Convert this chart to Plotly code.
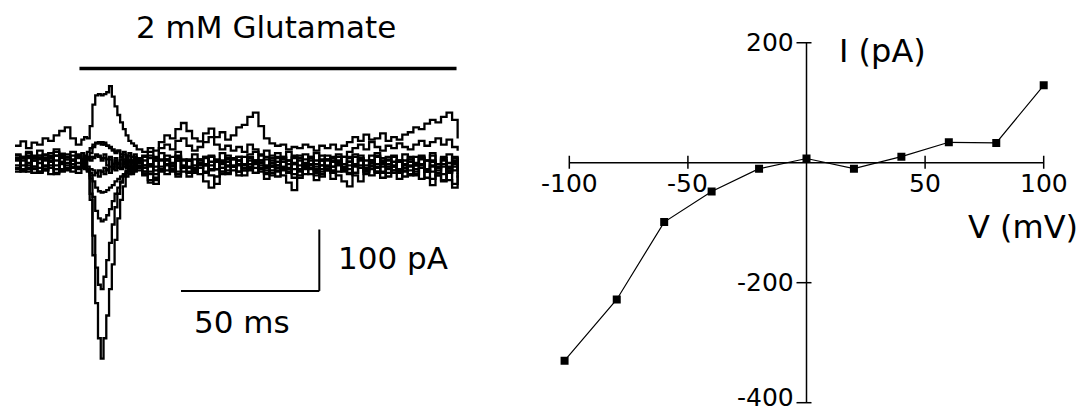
import plotly.graph_objects as go

# ---------------- Left panel: current traces (time in ms, current in pA) ----------------
T_MS = [0, 2, 4, 6, 8, 10, 12, 14, 16, 18, 20, 22,
        24, 25, 26, 27, 28, 29, 30, 31, 32, 33, 34, 35, 36, 37, 38, 39, 40, 41, 42, 43, 44,
        46, 48, 50, 52, 54, 56, 58, 60, 62, 64,
        66, 68, 70, 72, 74, 76, 78, 80, 82, 84,
        86, 88, 90, 92, 94, 96, 98, 100, 102, 104,
        106, 108, 110, 112, 114, 116, 118, 120, 122, 124,
        126, 128, 130, 132, 134, 136, 138, 140, 142, 144,
        146, 148, 150, 152, 154, 156, 158, 160]

trace_m100 = [6, -14, 8, -10, 12, -12, 4, -16, 10, -8, 12, -10,
              -6, 8, -10, -60, -150, -228, -285, -318, -285, -248, -205, -165, -125, -90, -60, -38, -22, -14, -18, 2, -12,
              -14, -2, 8, -12, 4, -10, 10, -6, 6, -16,
              0, 10, -10, 4, -14, 8, -6, 10, -12, 4,
              -16, 0, 10, -6, 8, -12, 4, -10, 12, -4,
              8, -14, 4, -10, 10, -2, -14, 8, -6, 12,
              -10, 4, -14, 8, -6, 12, -10, 4, -18, 0,
              8, -10, 12, -6, 4, -14, 8, -6]
trace_m80 = [-14, 4, -8, -16, 6, -10, 8, -18, 0, -12, 6, -6,
             6, -8, -14, -50, -118, -170, -198, -205, -185, -158, -130, -100, -72, -50, -32, -20, -12, 2, -16, 4, -8,
             -20, -32, -24, -10, -18, -4, -14, 4, -8, -16,
             -4, -14, 2, -10, -2, -16, -6, -20, -4, -12,
             2, -10, -4, -16, -22, -6, -14, 0, -10, -18,
             -4, -12, -22, -6, -16, 0, -12, -4, -16, -8,
             -18, -10, -2, -14, -22, -6, -16, -4, -12, -20,
             -4, -14, -6, -20, -28, -12, -2, -18]
trace_m60 = [8, -10, 12, -6, -14, 8, -4, 12, -12, 6, -8, 14,
             -8, 8, -10, -25, -55, -78, -90, -95, -92, -85, -75, -62, -50, -40, -30, -22, -16, -18, -6, -12, 4,
             -14, -4, -18, -6, 6, -12, 8, -4, -14, 6,
             -8, 10, -12, 2, -18, -6, 6, -14, -2, 8,
             -8, 4, -12, -20, -4, 6, -8, 8, -14, -2,
             10, -6, 4, -12, 2, 10, -6, -16, -2, 8,
             -8, 4, -14, -2, 10, -6, 4, -12, 2, 10,
             -8, 4, -14, -2, 8, -8, 4, -12]
trace_m40 = [-10, 10, -4, 12, -14, 4, 8, -10, 12, -4, 4, -16,
             4, -8, -12, -20, -30, -40, -46, -48, -47, -44, -40, -36, -30, -26, -22, -18, -14, -10, -14, -4, -8,
             -18, -28, -34, -14, -4, -14, -22, -6, 4, -10,
             -2, -16, -4, 6, -8, -18, -4, 4, -12, -2,
             -16, -4, -26, -12, 2, -8, -16, -2, -20, -6,
             4, -10, -18, -4, -14, 2, -8, -18, -4, 4,
             -10, -20, -6, 2, -16, -4, -14, -2, -20, -10,
             -26, -14, -4, -12, -2, -16, -6, -24]
trace_m20 = [6, -10, 0, -16, 8, -4, -18, 4, -10, 6, -14, 0,
             -8, 4, -12, -16, -20, -16, -22, -14, -18, -10, -16, -6, -12, -2, -10, 2, -8, 4, -6, -14, 0,
             -8, -18, -28, -12, -2, -10, 4, -8, -16, -4,
             -18, -30, -40, -22, -8, 2, -12, -4, -20, -6,
             4, -10, -18, -4, -12, 2, -10, -24, -12, -2,
             -10, -20, -4, -12, -26, -14, -2, -10, -20, -30,
             -12, -4, -16, -24, -10, 2, -12, -22, -6, -14,
             -2, -12, -26, -16, -6, -28, -40, -20]
trace_0 = [-4, 10, -10, 8, 0, -12, 12, -4, 8, -10, 4, 12,
           0, -10, 6, 10, 8, 12, 10, 4, 8, -4, 6, -6, 4, -8, 6, -2, 10, -6, 4, -12, 6,
           -4, 8, -12, 4, 12, -6, 4, -14, -22, -8,
           6, -4, 10, -10, 4, -12, 8, -2, 10, -8,
           0, 12, -6, 4, -14, 8, -2, 10, -12, 0,
           -18, -28, -10, 6, -6, 4, -12, 10, -2, 6,
           -14, 0, 10, -6, 4, -16, -26, -8, 6, -4,
           10, -12, 4, -8, -18, 0, -12, 6]
trace_p20 = [4, -12, 10, -6, -16, 6, -8, 12, -14, 0, -6, 10,
             -8, 4, -6, -10, -12, -16, -12, -14, -8, -12, -6, -10, 0, -8, 6, -6, 4, -12, 0, 8, -6,
             4, -14, -6, 6, -12, 0, -18, -8, 4, -12,
             -2, 8, -20, -34, -14, -4, 6, -14, -2, -10,
             4, -8, -16, 0, -8, -20, -32, -44, -24, -10,
             -2, -16, -4, 4, -12, -20, -30, -38, -16, -4,
             -14, 4, -8, -16, -2, -12, 2, -14, -4, -18,
             -8, -24, -36, -20, -30, -12, -34, -16]
trace_p40 = [-8, 8, -14, 4, 12, -6, 10, -10, 2, 14, -2, -8,
             6, -4, 10, 4, 10, 14, 12, 8, 14, 6, 10, -2, 8, 0, -8, 6, -6, 4, -10, 6, -4,
             10, -6, 4, -12, 6, -4, 12, -8, 4, -14,
             6, -2, 10, -10, 2, 12, -6, 4, -8, 10,
             -2, -14, 6, -6, 10, -10, 4, -18, -4, 6,
             -8, 4, -14, 6, -6, 10, -10, 2, 10, -8,
             4, -6, 12, -2, 6, -12, 4, -8, 10, -2,
             6, -14, 2, -8, 6, -6, 10, -2]
trace_p60 = [12, -4, 16, 4, -8, 14, 2, 18, -2, 10, -8, 8,
             4, 12, 6, 16, 26, 32, 34, 30, 33, 28, 24, 20, 16, 20, 10, 14, 6, 12, 0, 10, 2,
             -4, 12, 4, 16, -2, 10, 18, 6, -6, 14,
             4, -4, 12, 2, 16, 6, -6, 10, -2, 14,
             18, 4, -8, 8, -4, 10, -10, -2, 4, -8,
             8, -2, 12, -6, 4, -4, 10, 2, 14, 6,
             -4, 12, 16, 4, -6, 10, 2, 14, 6, -4,
             12, 4, 16, -2, 10, 14, 2, 8]
trace_p80 = [14, 8, 18, 10, 20, 12, 16, 22, 15, 10, 18, 12,
             16, 10, 18, 24, 30, 33, 32, 34, 30, 28, 26, 22, 18, 20, 14, 18, 12, 16, 10, 14, 8,
             12, 18, 10, 24, 30, 22, 36, 40, 28, 20,
             26, 34, 42, 30, 22, 28, 20, 26, 18, 30,
             22, 14, 20, 12, 16, 10, 18, 12, 8, 14,
             10, 16, 6, 12, 8, 14, 10, 18, 24, 30,
             22, 34, 26, 20, 28, 24, 32, 26, 22, 30,
             36, 28, 34, 40, 30, 38, 26, 20]
trace_p100 = [28, 35, 24, 33, 30, 40, 36, 45, 52, 58, 40, 30,
              38, 42, 40, 60, 95, 110, 112, 110, 112, 115, 125, 108, 92, 78, 66, 55, 45, 36, 32, 28, 22,
              18, 24, 20, 34, 45, 40, 55, 65, 52, 40,
              35, 48, 56, 42, 50, 38, 45, 58, 62, 75,
              82, 60, 40, 32, 28, 30, 22, 26, 24, 30,
              26, 20, 28, 24, 30, 22, 28, 34, 42, 36,
              46, 38, 40, 48, 36, 42, 38, 46, 50, 58,
              55, 64, 70, 66, 75, 82, 70, 40]

TRACES = [trace_m100, trace_m80, trace_m60, trace_m40, trace_m20, trace_0,
          trace_p20, trace_p40, trace_p60, trace_p80, trace_p100]

GLU_ON_MS = 23.3
GLU_OFF_MS = 159.6
GLU_BAR_PA = 153.7
GLU_LABEL = "2 mM Glutamate"
SCALE_T = [60, 110]      # 50 ms
SCALE_I = [-208, -108]   # 100 pA
SCALE_T_LABEL = "50 ms"
SCALE_I_LABEL = "100 pA"

# ---------------- Right panel: I-V relation ----------------
V_MV = [-102, -80, -60, -40, -20, 0, 20, 40, 60, 80, 100]
I_PA = [-330, -228, -99, -48, -10, 7, -10, 10, 34, 33, 129]

X_TICKS = [-100, -50, 50, 100]
X_TICK_LABELS = ["-100", "-50", "50", "100"]
Y_TICKS = [200, -200, -400]
Y_TICK_LABELS = ["200", "-200", "-400"]
X_TITLE = "V (mV)"
Y_TITLE = "I (pA)"

FONT = "DejaVu Sans"
INK = "black"

# The page body adds an 8 px margin; the figure is sized so that it ends at the window edge.
FIG_W, FIG_H = 1081, 404
SPLIT = 536.5 / FIG_W

fig = go.Figure()

for tr in TRACES:
    fig.add_trace(go.Scatter(x=T_MS, y=tr, mode="lines",
                             line=dict(color=INK, width=2.3, shape="hv"),
                             xaxis="x", yaxis="y", hoverinfo="skip", showlegend=False))

fig.add_trace(go.Scatter(x=V_MV, y=I_PA, mode="lines+markers",
                         line=dict(color=INK, width=1.2),
                         marker=dict(symbol="square", size=8, color=INK),
                         xaxis="x2", yaxis="y2", hoverinfo="skip", showlegend=False))

shapes = []
shapes.append(dict(type="line", xref="x", yref="y", x0=GLU_ON_MS, x1=GLU_OFF_MS,
                   y0=GLU_BAR_PA, y1=GLU_BAR_PA, line=dict(color=INK, width=3.5)))
shapes.append(dict(type="line", xref="x", yref="y", x0=SCALE_T[0], x1=SCALE_T[1],
                   y0=SCALE_I[0], y1=SCALE_I[0], line=dict(color=INK, width=2)))
shapes.append(dict(type="line", xref="x", yref="y", x0=SCALE_T[1], x1=SCALE_T[1],
                   y0=SCALE_I[0], y1=SCALE_I[1], line=dict(color=INK, width=2)))
shapes.append(dict(type="line", xref="x2", yref="y2", x0=X_TICKS[0], x1=X_TICKS[-1],
                   y0=0, y1=0, line=dict(color=INK, width=1.5)))
shapes.append(dict(type="line", xref="x2", yref="y2", x0=0, x1=0,
                   y0=min(Y_TICKS), y1=max(Y_TICKS), line=dict(color=INK, width=1.5)))
for xt in X_TICKS:
    shapes.append(dict(type="line", xref="x2", yref="y2", x0=xt, x1=xt,
                       ysizemode="pixel", yanchor=0, y0=-6, y1=7,
                       line=dict(color=INK, width=1.5)))
for yt in Y_TICKS:
    shapes.append(dict(type="line", xref="x2", yref="y2", y0=yt, y1=yt,
                       xsizemode="pixel", xanchor=0, x0=-10, x1=5,
                       line=dict(color=INK, width=1.5)))

annotations = []
annotations.append(dict(xref="x", yref="y", x=90.7, y=221, text=GLU_LABEL, showarrow=False,
                        font=dict(family=FONT, size=31, color=INK), xanchor="center", yanchor="middle"))
annotations.append(dict(xref="x", yref="y", x=116.0, y=-155, text=SCALE_I_LABEL, showarrow=False,
                        font=dict(family=FONT, size=31, color=INK), xanchor="left", yanchor="middle"))
annotations.append(dict(xref="x", yref="y", x=82.2, y=-258, text=SCALE_T_LABEL, showarrow=False,
                        font=dict(family=FONT, size=31, color=INK), xanchor="center", yanchor="middle"))
for xt, lab in zip(X_TICKS, X_TICK_LABELS):
    annotations.append(dict(xref="x2", yref="y2", x=xt, y=0, text=lab, showarrow=False,
                            yshift=-21, font=dict(family=FONT, size=25, color=INK),
                            xanchor="center", yanchor="middle"))
for yt, lab in zip(Y_TICKS, Y_TICK_LABELS):
    annotations.append(dict(xref="x2", yref="y2", x=0, y=yt, text=lab, showarrow=False,
                            xshift=-11, yshift=(5 if yt == min(Y_TICKS) else 0),
                            font=dict(family=FONT, size=25, color=INK),
                            xanchor="right", yanchor="middle"))
annotations.append(dict(xref="x2", yref="y2", x=13.0, y=186, text=Y_TITLE, showarrow=False,
                        font=dict(family=FONT, size=32, color=INK), xanchor="left", yanchor="middle"))
annotations.append(dict(xref="x2", yref="y2", x=91.3, y=-107, text=X_TITLE, showarrow=False,
                        font=dict(family=FONT, size=32, color=INK), xanchor="center", yanchor="middle"))

fig.update_layout(
    width=FIG_W, height=FIG_H,
    margin=dict(l=0, r=0, t=0, b=0),
    paper_bgcolor="white", plot_bgcolor="white",
    showlegend=False,
    xaxis=dict(domain=[0, SPLIT], range=[-2.53, 191.4], visible=False, fixedrange=True),
    yaxis=dict(domain=[0, 1], range=[-404.9, 252.0], visible=False, fixedrange=True),
    xaxis2=dict(domain=[SPLIT, 1], range=[-110.46, 119.1], visible=False, anchor="y2", fixedrange=True),
    yaxis2=dict(domain=[0, 1], range=[-415.5, 257.8], visible=False, anchor="x2", fixedrange=True),
    shapes=shapes,
    annotations=annotations,
)

fig.write_html("out.html")
